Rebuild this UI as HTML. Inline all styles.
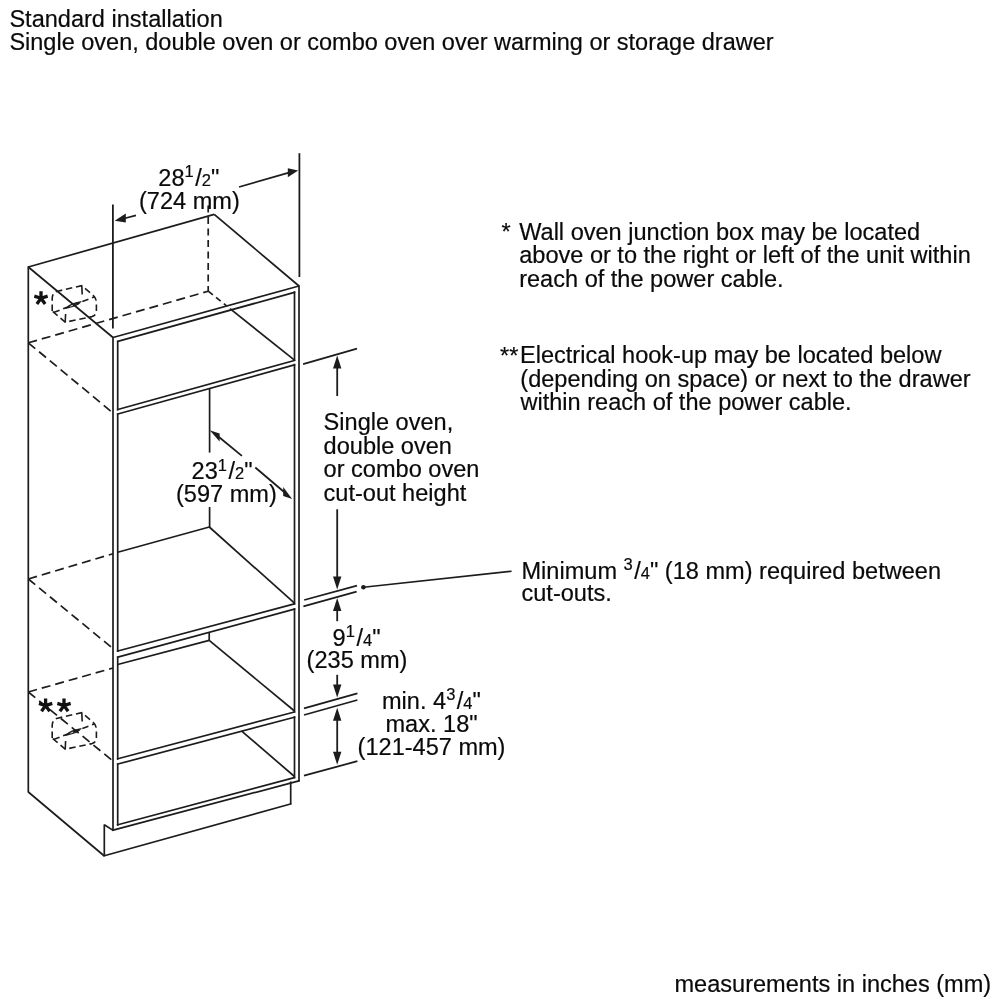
<!DOCTYPE html>
<html><head><meta charset="utf-8"><style>
html,body{margin:0;padding:0;background:#fff;width:1000px;height:1000px;overflow:hidden}
svg{display:block;will-change:transform}
text{font-family:"Liberation Sans",sans-serif;fill:#0a0a0a;stroke:#0a0a0a;stroke-width:0.2px}
</style></head><body>
<svg width="1000" height="1000" viewBox="0 0 1000 1000">
<rect width="1000" height="1000" fill="#fff"/>
<g stroke-linecap="butt">
<line x1="28.3" y1="267.0" x2="214.2" y2="214.4" stroke="#1c1c1c" stroke-width="1.7"/>
<line x1="214.2" y1="214.4" x2="299.0" y2="286.0" stroke="#1c1c1c" stroke-width="1.7"/>
<line x1="28.3" y1="267.0" x2="113.0" y2="337.5" stroke="#1c1c1c" stroke-width="1.7"/>
<line x1="113.0" y1="337.5" x2="299.0" y2="286.0" stroke="#1c1c1c" stroke-width="1.7"/>
<line x1="28.3" y1="266.2" x2="28.3" y2="792.5" stroke="#1c1c1c" stroke-width="1.7"/>
<line x1="28.3" y1="792" x2="104.3" y2="856" stroke="#1c1c1c" stroke-width="1.7"/>
<line x1="113.0" y1="337.5" x2="113.0" y2="830.8" stroke="#1c1c1c" stroke-width="1.7"/>
<line x1="299.0" y1="285.2" x2="299.0" y2="781.2" stroke="#1c1c1c" stroke-width="1.7"/>
<line x1="112.2" y1="830.4" x2="299.8" y2="780.6" stroke="#1c1c1c" stroke-width="1.7"/>
<line x1="116.9" y1="341.6" x2="295.3" y2="292.1" stroke="#1c1c1c" stroke-width="1.7"/>
<line x1="116.9" y1="409.7" x2="295.3" y2="360.2" stroke="#1c1c1c" stroke-width="1.7"/>
<line x1="116.9" y1="414.2" x2="295.3" y2="364.6" stroke="#1c1c1c" stroke-width="1.7"/>
<line x1="116.9" y1="651.2" x2="295.3" y2="603.6" stroke="#1c1c1c" stroke-width="1.7"/>
<line x1="116.9" y1="657.4" x2="295.3" y2="608.9" stroke="#1c1c1c" stroke-width="1.7"/>
<line x1="116.9" y1="759.0" x2="295.3" y2="711.8" stroke="#1c1c1c" stroke-width="1.7"/>
<line x1="116.9" y1="764.3" x2="295.3" y2="717.0" stroke="#1c1c1c" stroke-width="1.7"/>
<line x1="116.9" y1="825.0" x2="295.3" y2="777.4" stroke="#1c1c1c" stroke-width="1.7"/>
<line x1="117.7" y1="340.8" x2="117.7" y2="410.5" stroke="#1c1c1c" stroke-width="1.7"/>
<line x1="294.5" y1="291.3" x2="294.5" y2="361.0" stroke="#1c1c1c" stroke-width="1.7"/>
<line x1="117.7" y1="413.4" x2="117.7" y2="652.0" stroke="#1c1c1c" stroke-width="1.7"/>
<line x1="294.5" y1="363.8" x2="294.5" y2="604.4" stroke="#1c1c1c" stroke-width="1.7"/>
<line x1="117.7" y1="656.6" x2="117.7" y2="759.8" stroke="#1c1c1c" stroke-width="1.7"/>
<line x1="294.5" y1="608.1" x2="294.5" y2="712.5999999999999" stroke="#1c1c1c" stroke-width="1.7"/>
<line x1="117.7" y1="763.5" x2="117.7" y2="825.8" stroke="#1c1c1c" stroke-width="1.7"/>
<line x1="294.5" y1="716.2" x2="294.5" y2="778.1999999999999" stroke="#1c1c1c" stroke-width="1.7"/>
<line x1="208.2" y1="291.2" x2="226.5" y2="305.8315179606025" stroke="#1c1c1c" stroke-width="1.7" stroke-dasharray="6,4"/>
<line x1="230.0" y1="308.62989571263034" x2="294.5" y2="360.2" stroke="#1c1c1c" stroke-width="1.7"/>
<line x1="208.2" y1="205.5" x2="208.2" y2="291.2" stroke="#1c1c1c" stroke-width="1.7" stroke-dasharray="7,4.5"/>
<line x1="28.3" y1="342.8" x2="208.2" y2="291.2" stroke="#1c1c1c" stroke-width="1.7" stroke-dasharray="9,5"/>
<line x1="28.3" y1="342.8" x2="113" y2="413" stroke="#1c1c1c" stroke-width="1.7" stroke-dasharray="9,5"/>
<line x1="209.6" y1="388.5022624434389" x2="209.6" y2="452.6" stroke="#1c1c1c" stroke-width="1.7"/>
<line x1="209.6" y1="507.0" x2="209.6" y2="527.5" stroke="#1c1c1c" stroke-width="1.7"/>
<line x1="117.7" y1="552.2" x2="209.3" y2="527.0" stroke="#1c1c1c" stroke-width="1.7"/>
<line x1="209.3" y1="527.0" x2="294.5" y2="603.2" stroke="#1c1c1c" stroke-width="1.7"/>
<polygon points="209.70,430.30 219.60,433.60 219.60,441.60" fill="#1c1c1c"/>
<line x1="218" y1="436.3" x2="241.9" y2="455.9" stroke="#1c1c1c" stroke-width="1.8"/>
<polygon points="292.20,499.00 283.20,487.00 283.20,496.00" fill="#1c1c1c"/>
<line x1="255.3" y1="467.5" x2="285" y2="492.8" stroke="#1c1c1c" stroke-width="1.8"/>
<line x1="117.7" y1="664.5" x2="209.2" y2="640.4" stroke="#1c1c1c" stroke-width="1.7"/>
<line x1="209.2" y1="632.2996040723982" x2="209.2" y2="640.4" stroke="#1c1c1c" stroke-width="1.7"/>
<line x1="209.2" y1="640.4" x2="294.5" y2="711.0" stroke="#1c1c1c" stroke-width="1.7"/>
<line x1="241.7" y1="731.1257918552036" x2="294.5" y2="776.5" stroke="#1c1c1c" stroke-width="1.7"/>
<line x1="290.7" y1="781.5" x2="290.7" y2="804.3" stroke="#1c1c1c" stroke-width="1.7"/>
<line x1="104.3" y1="855.8" x2="291.4" y2="803.8" stroke="#1c1c1c" stroke-width="1.7"/>
<line x1="104.3" y1="824.5" x2="104.3" y2="856.5" stroke="#1c1c1c" stroke-width="1.7"/>
<line x1="104.3" y1="824.7" x2="113.1" y2="830.4" stroke="#1c1c1c" stroke-width="1.7"/>
<line x1="28.3" y1="579.0" x2="113" y2="553.7" stroke="#1c1c1c" stroke-width="1.7" stroke-dasharray="9,5"/>
<line x1="28.3" y1="579.0" x2="113" y2="648.6" stroke="#1c1c1c" stroke-width="1.7" stroke-dasharray="9,5"/>
<line x1="28.3" y1="692.0" x2="113" y2="668.0" stroke="#1c1c1c" stroke-width="1.7" stroke-dasharray="9,5"/>
<line x1="28.3" y1="692.0" x2="113" y2="761.0" stroke="#1c1c1c" stroke-width="1.7" stroke-dasharray="9,5"/>
<line x1="112.9" y1="204.6" x2="112.9" y2="328.4" stroke="#1c1c1c" stroke-width="1.8"/>
<line x1="299.4" y1="153.2" x2="299.4" y2="277.0" stroke="#1c1c1c" stroke-width="1.8"/>
<polygon points="114.70,220.80 125.80,213.60 125.80,222.60" fill="#1c1c1c"/>
<line x1="124" y1="218.5" x2="136" y2="215.4" stroke="#1c1c1c" stroke-width="1.8"/>
<polygon points="298.20,170.50 287.80,168.30 287.80,177.30" fill="#1c1c1c"/>
<line x1="239" y1="187.0" x2="289" y2="172.6" stroke="#1c1c1c" stroke-width="1.8"/>
<line x1="303.1" y1="364.1" x2="357.0" y2="348.7" stroke="#1c1c1c" stroke-width="1.8"/>
<polygon points="337.20,355.50 341.40,368.50 333.00,368.50" fill="#1c1c1c"/>
<line x1="337.2" y1="366" x2="337.2" y2="396" stroke="#1c1c1c" stroke-width="1.8"/>
<line x1="337.2" y1="509.3" x2="337.2" y2="578" stroke="#1c1c1c" stroke-width="1.8"/>
<polygon points="337.20,589.60 333.00,576.60 341.40,576.60" fill="#1c1c1c"/>
<line x1="304.2" y1="600.0" x2="357.0" y2="585.6" stroke="#1c1c1c" stroke-width="1.8"/>
<line x1="303.4" y1="606.4" x2="356.6" y2="591.6" stroke="#1c1c1c" stroke-width="1.8"/>
<circle cx="363.4" cy="587.2" r="2.3" fill="#1c1c1c"/>
<line x1="363.4" y1="587.2" x2="511.6" y2="571.2" stroke="#1c1c1c" stroke-width="1.6"/>
<polygon points="337.20,598.00 341.40,611.00 333.00,611.00" fill="#1c1c1c"/>
<line x1="337.2" y1="608" x2="337.2" y2="621.2" stroke="#1c1c1c" stroke-width="1.8"/>
<line x1="337.2" y1="674.8" x2="337.2" y2="688" stroke="#1c1c1c" stroke-width="1.8"/>
<polygon points="337.20,697.60 333.00,684.60 341.40,684.60" fill="#1c1c1c"/>
<line x1="304.0" y1="708.4" x2="357.4" y2="693.4" stroke="#1c1c1c" stroke-width="1.8"/>
<line x1="304.0" y1="715.0" x2="357.4" y2="700.0" stroke="#1c1c1c" stroke-width="1.8"/>
<polygon points="337.20,707.80 341.40,720.80 333.00,720.80" fill="#1c1c1c"/>
<line x1="337.2" y1="718" x2="337.2" y2="754" stroke="#1c1c1c" stroke-width="1.8"/>
<polygon points="337.20,764.80 333.00,751.80 341.40,751.80" fill="#1c1c1c"/>
<line x1="304.0" y1="775.6" x2="357.4" y2="761.2" stroke="#1c1c1c" stroke-width="1.8"/>
<path d="M52.2,311.1 L52.2,298.5 Q52.2,292.6 57.5,291.2 L81.8,285.6 L92.8,295.0 Q96.4,298.0 96.4,302.5 L96.4,310.5 Q96.4,315.3 92.0,316.6 L65.2,322.2 Z" stroke="#1c1c1c" stroke-width="1.6" fill="none" stroke-dasharray="6.5,3.8"/>
<path d="M53.5,312.5 L94.0,297.0" stroke="#1c1c1c" stroke-width="1.6" fill="none" stroke-dasharray="6.5,3.8"/>
<path d="M81.8,286.0 L82.2,294.5" stroke="#1c1c1c" stroke-width="1.6" fill="none"/>
<path d="M65.6,314.0 L65.2,322.2" stroke="#1c1c1c" stroke-width="1.6" fill="none"/>
<path d="M66.5,308.0 C69.5,304.8 74.5,302.8 80.5,302.0 C79.0,304.2 73.0,306.8 66.5,308.0 Z" stroke="#1c1c1c" stroke-width="1.3" fill="none"/>
<path d="M52.2,738.1 L52.2,725.5 Q52.2,719.6 57.5,718.2 L81.8,712.6 L92.8,722.0 Q96.4,725.0 96.4,729.5 L96.4,737.5 Q96.4,742.3 92.0,743.6 L65.2,749.2 Z" stroke="#1c1c1c" stroke-width="1.6" fill="none" stroke-dasharray="6.5,3.8"/>
<path d="M53.5,739.5 L94.0,724.0" stroke="#1c1c1c" stroke-width="1.6" fill="none" stroke-dasharray="6.5,3.8"/>
<path d="M81.8,713.0 L82.2,721.5" stroke="#1c1c1c" stroke-width="1.6" fill="none"/>
<path d="M65.6,741.0 L65.2,749.2" stroke="#1c1c1c" stroke-width="1.6" fill="none"/>
<path d="M66.5,735.0 C69.5,731.8 74.5,729.8 80.5,729.0 C79.0,731.2 73.0,733.8 66.5,735.0 Z" stroke="#1c1c1c" stroke-width="1.3" fill="none"/>
<path d="M41.00,298.30 L41.00,291.30 M41.00,298.30 L47.66,296.14 M41.00,298.30 L45.11,303.96 M41.00,298.30 L36.89,303.96 M41.00,298.30 L34.34,296.14 " stroke="#111" stroke-width="3.3" stroke-linecap="butt" fill="none"/>
<path d="M45.60,705.60 L45.60,698.60 M45.60,705.60 L52.26,703.44 M45.60,705.60 L49.71,711.26 M45.60,705.60 L41.49,711.26 M45.60,705.60 L38.94,703.44 " stroke="#111" stroke-width="3.3" stroke-linecap="butt" fill="none"/>
<path d="M64.00,705.60 L64.00,698.60 M64.00,705.60 L70.66,703.44 M64.00,705.60 L68.11,711.26 M64.00,705.60 L59.89,711.26 M64.00,705.60 L57.34,703.44 " stroke="#111" stroke-width="3.3" stroke-linecap="butt" fill="none"/>
</g>
<g>
<text x="9.4" y="26.7" font-size="23.55" text-anchor="start">Standard installation</text>
<text x="9.4" y="50.2" font-size="23.5" text-anchor="start">Single oven, double oven or combo oven over warming or storage drawer</text>
<text x="158.3" y="185.5" font-size="23.55" text-anchor="start">28<tspan font-size="16.5" dy="-8.8">1</tspan><tspan dy="8.8" dx="1.5">/</tspan><tspan font-size="16.5">2</tspan>&quot;</text>
<text x="139.0" y="208.6" font-size="23.55" text-anchor="start">(724 mm)</text>
<text x="501.5" y="239.6" font-size="23.55" text-anchor="start">*</text>
<text x="519.2" y="239.8" font-size="23.55" text-anchor="start">Wall oven junction box may be located</text>
<text x="519.2" y="263.4" font-size="23.55" text-anchor="start">above or to the right or left of the unit within</text>
<text x="519.2" y="287.0" font-size="23.55" text-anchor="start">reach of the power cable.</text>
<text x="500.0" y="363.6" font-size="23.55" text-anchor="start">**</text>
<text x="520.0" y="363.3" font-size="23.55" text-anchor="start">Electrical hook-up may be located below</text>
<text x="520.3" y="387.3" font-size="23.55" text-anchor="start">(depending on space) or next to the drawer</text>
<text x="520.5" y="410.2" font-size="23.55" text-anchor="start">within reach of the power cable.</text>
<text x="323.6" y="430.3" font-size="23.55" text-anchor="start">Single oven,</text>
<text x="323.6" y="453.8" font-size="23.55" text-anchor="start">double oven</text>
<text x="323.6" y="477.3" font-size="23.55" text-anchor="start">or combo oven</text>
<text x="323.6" y="501.0" font-size="23.55" text-anchor="start">cut-out height</text>
<text x="191.6" y="479.4" font-size="23.55" text-anchor="start">23<tspan font-size="16.5" dy="-8.8">1</tspan><tspan dy="8.8" dx="1.5">/</tspan><tspan font-size="16.5">2</tspan>&quot;</text>
<text x="176.0" y="502.2" font-size="23.55" text-anchor="start">(597 mm)</text>
<text x="521.5" y="579.0" font-size="23.55" text-anchor="start">Minimum <tspan font-size="16.5" dy="-8.8">3</tspan><tspan dy="8.8" dx="1.5">/</tspan><tspan font-size="16.5">4</tspan>&quot; (18 mm) required between</text>
<text x="521.5" y="601.3" font-size="23.55" text-anchor="start">cut-outs.</text>
<text x="332.6" y="645.5" font-size="23.55" text-anchor="start">9<tspan font-size="16.5" dy="-8.8">1</tspan><tspan dy="8.8" dx="1.5">/</tspan><tspan font-size="16.5">4</tspan>&quot;</text>
<text x="306.6" y="667.8" font-size="23.55" text-anchor="start">(235 mm)</text>
<text x="382.0" y="708.6" font-size="23.55" text-anchor="start">min. 4<tspan font-size="16.5" dy="-8.8">3</tspan><tspan dy="8.8" dx="1.5">/</tspan><tspan font-size="16.5">4</tspan>&quot;</text>
<text x="385.5" y="731.8" font-size="23.55" text-anchor="start">max. 18&quot;</text>
<text x="357.6" y="755.0" font-size="23.55" text-anchor="start">(121-457 mm)</text>
<text x="674.5" y="991.5" font-size="23.55" text-anchor="start">measurements in inches (mm)</text>
</g>
</svg>
</body></html>
